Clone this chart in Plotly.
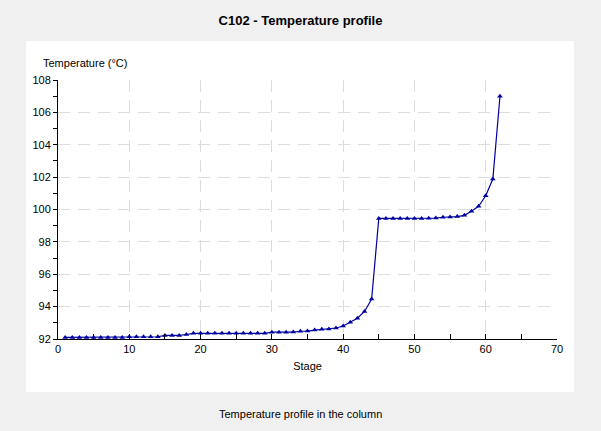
import plotly.graph_objects as go

stages = list(range(1, 63))
temperature = [
    92.10, 92.10, 92.10, 92.10, 92.10, 92.10, 92.10, 92.10, 92.10,   # 1-9
    92.14, 92.14, 92.14, 92.14, 92.14,                               # 10-14
    92.22, 92.22, 92.22, 92.28,                                      # 15-18
    92.35, 92.35, 92.35, 92.35, 92.35, 92.35, 92.35, 92.35, 92.35, 92.35, 92.35,  # 19-29
    92.42, 92.42, 92.42, 92.43,                                      # 30-33
    92.48, 92.49, 92.55, 92.60, 92.62, 92.68,                        # 34-39
    92.80, 93.03, 93.28, 93.70, 94.47,                               # 40-44
    99.45, 99.45, 99.45, 99.45, 99.45, 99.45, 99.45, 99.46, 99.47,   # 45-53
    99.52, 99.54, 99.56, 99.64, 99.89, 100.20, 100.85, 101.88, 107.0 # 54-62
]

title_text = "C102 - Temperature profile"
x_title = "Stage"
y_title = "Temperature (°C)"
caption = "Temperature profile in the column"

FONT = "Liberation Sans"
L, R, T, B = 58, 44, 80, 92
W, H = 601, 431
pw, ph = W - L - R, H - T - B

def px_x(p):
    return (p - L) / pw

def px_y(p):
    return (H - B - p) / ph

fig = go.Figure()
fig.add_trace(go.Scatter(
    x=stages, y=temperature, mode="lines+markers",
    line=dict(color="#0000a0", width=1.2),
    marker=dict(symbol="triangle-up", size=5, color="#0000a0"),
    showlegend=False, hoverinfo="x+y",
))

grid = dict(showgrid=True, gridcolor="#dcdcdc", gridwidth=1, griddash="12px,8px")

fig.update_layout(
    width=W, height=H,
    margin=dict(l=L, r=R, t=T, b=B),
    paper_bgcolor="#f0f0f0",
    plot_bgcolor="white",
    font=dict(family=FONT, size=11, color="black"),
    title=dict(text="<b>" + title_text + "</b>", x=0.5, xanchor="center",
               y=1 - 20 / H, yanchor="middle",
               font=dict(family=FONT, size=13, color="black")),
    xaxis=dict(range=[0, 70], dtick=10, tick0=0, showline=True, linecolor="black",
               linewidth=1, ticks="inside", ticklen=5, tickcolor="black",
               minor=dict(dtick=5, ticks="inside", ticklen=5, tickcolor="black", showgrid=False),
               zeroline=False, title=dict(text=x_title, standoff=8,
                                          font=dict(family=FONT, size=11)),
               tickfont=dict(family=FONT, size=11), **grid),
    yaxis=dict(range=[92, 108], dtick=2, tick0=92, showline=True, linecolor="black",
               linewidth=1, ticks="outside", ticklen=4, tickcolor="black",
               minor=dict(dtick=1, ticks="outside", ticklen=4, tickcolor="black", showgrid=False),
               zeroline=False, tickfont=dict(family=FONT, size=11), **grid),
    shapes=[dict(type="rect", xref="paper", yref="paper",
                 x0=px_x(26), x1=px_x(574), y0=px_y(392), y1=px_y(41),
                 fillcolor="white", line=dict(width=0), layer="below")],
    annotations=[
        dict(text=y_title, xref="paper", yref="paper", x=px_x(41), y=px_y(63),
             xanchor="left", yanchor="middle", showarrow=False,
             font=dict(family=FONT, size=11)),
        dict(text=caption, xref="paper", yref="paper", x=px_x(300), y=px_y(414),
             xanchor="center", yanchor="middle", showarrow=False,
             font=dict(family=FONT, size=11)),
    ],
)

fig.write_html("out.html", config={"displayModeBar": False},
               post_script="document.body.style.margin='0';document.body.style.background='#f0f0f0';")
